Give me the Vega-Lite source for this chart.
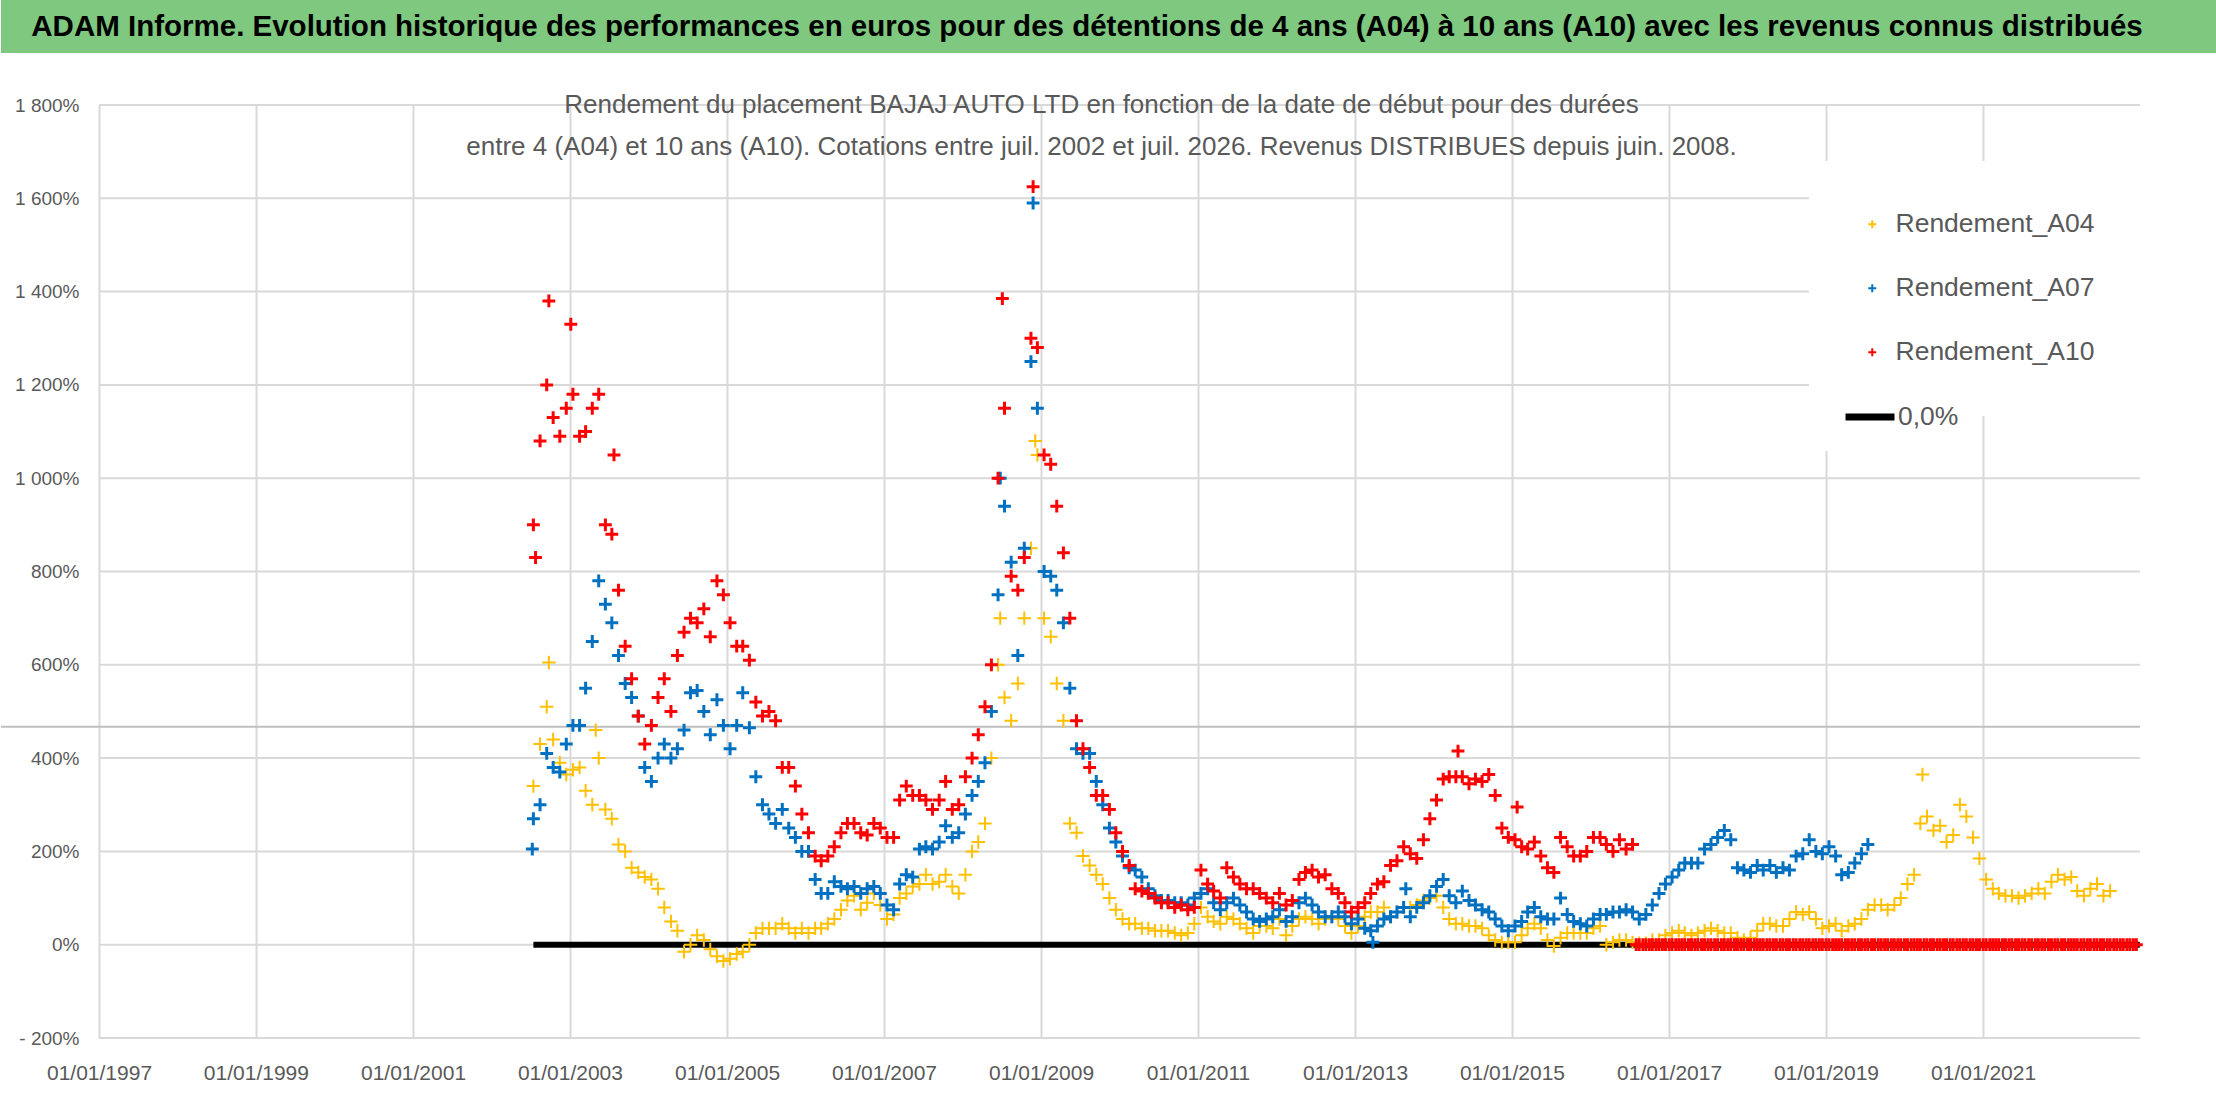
{
  "$schema": "https://vega.github.io/schema/vega-lite/v6.json",
  "background": "white",
  "padding": 0,
  "columns": 1,
  "spacing": 39,
  "config": {
    "view": {"stroke": null},
    "font": "Liberation Sans",
    "axis": {"domain": false, "ticks": false, "tickSize": 0, "gridColor": "#d9d9d9", "gridWidth": 2, "labelFont": "Liberation Sans", "labelColor": "#595959"},
    "axisY": {"labelFontSize": 19, "labelPadding": 20, "grid": false, "offset": -98},
    "axisX": {"labelFontSize": 21, "labelPadding": 24, "labelFlush": false, "labelOverlap": false, "grid": true}
  },
  "datasets": {
    "banniere": [{"titre": "ADAM Informe. Evolution historique des performances en euros pour des détentions de 4 ans (A04) à 10 ans (A10) avec les revenus connus distribués"}],
    "grille": [{"niveau": -200}, {"niveau": 0}, {"niveau": 200}, {"niveau": 400}, {"niveau": 600}, {"niveau": 800}, {"niveau": 1000}, {"niveau": 1200}, {"niveau": 1400}, {"niveau": 1600}, {"niveau": 1800}],
    "repere": [{"niveau": 467}],
    "ligne": [{"date": "2002-07-15", "v": 0}, {"date": "2022-12-31", "v": 0}],
    "a04": [
      {"date":"2002-07-15","v":340},{"date":"2002-08-15","v":430},{"date":"2002-09-15","v":510},{"date":"2002-09-25","v":605},{"date":"2002-10-15","v":440},{"date":"2002-11-15","v":390},{"date":"2002-12-15","v":365},
      {"date":"2003-01-15","v":375},{"date":"2003-02-15","v":380},{"date":"2003-03-15","v":330},{"date":"2003-04-15","v":300},{"date":"2003-05-01","v":460},{"date":"2003-05-15","v":400},{"date":"2003-06-15","v":290},{"date":"2003-07-15","v":270},{"date":"2003-08-15","v":215},{"date":"2003-09-15","v":200},{"date":"2003-10-15","v":165},{"date":"2003-11-15","v":155},{"date":"2003-12-15","v":145},
      {"date":"2004-01-15","v":140},{"date":"2004-02-15","v":120},{"date":"2004-03-15","v":80},{"date":"2004-04-15","v":50},{"date":"2004-05-15","v":30},{"date":"2004-06-15","v":-15},{"date":"2004-07-15","v":0},{"date":"2004-08-15","v":20},{"date":"2004-09-15","v":10},{"date":"2004-10-15","v":-10},{"date":"2004-11-15","v":-25},{"date":"2004-12-15","v":-35},
      {"date":"2005-01-15","v":-30},{"date":"2005-02-15","v":-20},{"date":"2005-03-15","v":-15},{"date":"2005-04-15","v":0},{"date":"2005-05-15","v":25},{"date":"2005-06-15","v":35},{"date":"2005-07-15","v":35},{"date":"2005-08-15","v":35},{"date":"2005-09-15","v":45},{"date":"2005-10-15","v":35},{"date":"2005-11-15","v":25},{"date":"2005-12-15","v":35},
      {"date":"2006-01-15","v":25},{"date":"2006-02-15","v":35},{"date":"2006-03-15","v":35},{"date":"2006-04-15","v":45},{"date":"2006-05-15","v":55},{"date":"2006-06-15","v":75},{"date":"2006-07-15","v":95},{"date":"2006-08-15","v":105},{"date":"2006-09-15","v":75},{"date":"2006-10-15","v":90},{"date":"2006-11-15","v":110},{"date":"2006-12-15","v":85},
      {"date":"2007-01-15","v":55},{"date":"2007-02-15","v":65},{"date":"2007-03-15","v":100},{"date":"2007-04-15","v":110},{"date":"2007-05-15","v":125},{"date":"2007-06-15","v":130},{"date":"2007-07-15","v":150},{"date":"2007-08-15","v":130},{"date":"2007-09-15","v":135},{"date":"2007-10-15","v":150},{"date":"2007-11-15","v":125},{"date":"2007-12-15","v":110},
      {"date":"2008-01-15","v":150},{"date":"2008-02-15","v":200},{"date":"2008-03-15","v":220},{"date":"2008-04-15","v":260},{"date":"2008-05-15","v":400},{"date":"2008-06-15","v":600},{"date":"2008-06-25","v":700},{"date":"2008-07-15","v":530},{"date":"2008-08-15","v":480},{"date":"2008-09-15","v":560},{"date":"2008-10-15","v":700},{"date":"2008-11-15","v":850},{"date":"2008-12-05","v":1080},{"date":"2008-12-15","v":1050},
      {"date":"2009-01-15","v":700},{"date":"2009-02-15","v":660},{"date":"2009-03-15","v":560},{"date":"2009-04-15","v":480},{"date":"2009-05-15","v":260},{"date":"2009-06-15","v":240},{"date":"2009-07-15","v":190},{"date":"2009-08-15","v":170},{"date":"2009-09-15","v":150},{"date":"2009-10-15","v":130},{"date":"2009-11-15","v":100},{"date":"2009-12-15","v":75},
      {"date":"2010-01-15","v":55},{"date":"2010-02-15","v":45},{"date":"2010-03-15","v":45},{"date":"2010-04-15","v":35},{"date":"2010-05-15","v":35},{"date":"2010-06-15","v":30},{"date":"2010-07-15","v":30},{"date":"2010-08-15","v":30},{"date":"2010-09-15","v":25},{"date":"2010-10-15","v":20},{"date":"2010-11-15","v":25},{"date":"2010-12-15","v":45},
      {"date":"2011-01-15","v":80},{"date":"2011-02-15","v":60},{"date":"2011-03-15","v":50},{"date":"2011-04-15","v":45},{"date":"2011-05-15","v":60},{"date":"2011-06-15","v":55},{"date":"2011-07-15","v":45},{"date":"2011-08-15","v":35},{"date":"2011-09-15","v":25},{"date":"2011-10-15","v":40},{"date":"2011-11-15","v":40},{"date":"2011-12-15","v":35},
      {"date":"2012-01-15","v":55},{"date":"2012-02-15","v":20},{"date":"2012-03-15","v":40},{"date":"2012-04-15","v":55},{"date":"2012-05-15","v":60},{"date":"2012-06-15","v":55},{"date":"2012-07-15","v":45},{"date":"2012-08-15","v":55},{"date":"2012-09-15","v":60},{"date":"2012-10-15","v":55},{"date":"2012-11-15","v":40},{"date":"2012-12-15","v":25},
      {"date":"2013-01-15","v":40},{"date":"2013-02-15","v":60},{"date":"2013-03-15","v":70},{"date":"2013-04-15","v":70},{"date":"2013-05-15","v":80},{"date":"2013-06-15","v":60},{"date":"2013-07-15","v":70},{"date":"2013-08-15","v":80},{"date":"2013-09-15","v":80},{"date":"2013-10-15","v":85},{"date":"2013-11-15","v":95},{"date":"2013-12-15","v":100},
      {"date":"2014-01-15","v":105},{"date":"2014-02-15","v":80},{"date":"2014-03-15","v":55},{"date":"2014-04-15","v":45},{"date":"2014-05-15","v":45},{"date":"2014-06-15","v":40},{"date":"2014-07-15","v":40},{"date":"2014-08-15","v":35},{"date":"2014-09-15","v":20},{"date":"2014-10-15","v":10},{"date":"2014-11-15","v":5},{"date":"2014-12-15","v":5},
      {"date":"2015-01-15","v":5},{"date":"2015-02-15","v":20},{"date":"2015-03-15","v":35},{"date":"2015-04-15","v":45},{"date":"2015-05-15","v":35},{"date":"2015-06-15","v":10},{"date":"2015-07-15","v":-3},{"date":"2015-08-15","v":15},{"date":"2015-09-15","v":25},{"date":"2015-10-15","v":25},{"date":"2015-11-15","v":25},{"date":"2015-12-15","v":25},
      {"date":"2016-01-15","v":35},{"date":"2016-02-15","v":40},{"date":"2016-03-15","v":0},{"date":"2016-04-15","v":5},{"date":"2016-05-15","v":10},{"date":"2016-06-15","v":10},{"date":"2016-07-15","v":5},{"date":"2016-08-15","v":3},{"date":"2016-09-15","v":3},{"date":"2016-10-15","v":10},{"date":"2016-11-15","v":10},{"date":"2016-12-15","v":20},
      {"date":"2017-01-15","v":25},{"date":"2017-02-15","v":30},{"date":"2017-03-15","v":25},{"date":"2017-04-15","v":20},{"date":"2017-05-15","v":25},{"date":"2017-06-15","v":30},{"date":"2017-07-15","v":35},{"date":"2017-08-15","v":30},{"date":"2017-09-15","v":25},{"date":"2017-10-15","v":25},{"date":"2017-11-15","v":15},{"date":"2017-12-15","v":10},
      {"date":"2018-01-15","v":15},{"date":"2018-02-15","v":30},{"date":"2018-03-15","v":45},{"date":"2018-04-15","v":45},{"date":"2018-05-15","v":40},{"date":"2018-06-15","v":40},{"date":"2018-07-15","v":55},{"date":"2018-08-15","v":70},{"date":"2018-09-15","v":65},{"date":"2018-10-15","v":70},{"date":"2018-11-15","v":55},{"date":"2018-12-15","v":35},
      {"date":"2019-01-15","v":40},{"date":"2019-02-15","v":45},{"date":"2019-03-15","v":30},{"date":"2019-04-15","v":40},{"date":"2019-05-15","v":45},{"date":"2019-06-15","v":55},{"date":"2019-07-15","v":75},{"date":"2019-08-15","v":85},{"date":"2019-09-15","v":85},{"date":"2019-10-15","v":75},{"date":"2019-11-15","v":85},{"date":"2019-12-15","v":100},
      {"date":"2020-01-15","v":130},{"date":"2020-02-15","v":150},{"date":"2020-03-15","v":260},{"date":"2020-03-25","v":365},{"date":"2020-04-15","v":275},{"date":"2020-05-15","v":245},{"date":"2020-06-15","v":255},{"date":"2020-07-15","v":220},{"date":"2020-08-15","v":235},{"date":"2020-09-15","v":300},{"date":"2020-10-15","v":275},{"date":"2020-11-15","v":230},{"date":"2020-12-15","v":185},
      {"date":"2021-01-15","v":140},{"date":"2021-02-15","v":120},{"date":"2021-03-15","v":110},{"date":"2021-04-15","v":105},{"date":"2021-05-15","v":105},{"date":"2021-06-15","v":100},{"date":"2021-07-15","v":105},{"date":"2021-08-15","v":110},{"date":"2021-09-15","v":120},{"date":"2021-10-15","v":110},{"date":"2021-11-15","v":135},{"date":"2021-12-15","v":150},
      {"date":"2022-01-15","v":140},{"date":"2022-02-15","v":145},{"date":"2022-03-15","v":115},{"date":"2022-04-15","v":105},{"date":"2022-05-15","v":120},{"date":"2022-06-15","v":130},{"date":"2022-07-15","v":105},{"date":"2022-08-15","v":115}
    ],
    "a07": [
      {"date":"2002-07-10","v":205},{"date":"2002-07-15","v":270},{"date":"2002-08-15","v":300},{"date":"2002-09-15","v":410},{"date":"2002-10-15","v":380},{"date":"2002-11-15","v":370},{"date":"2002-12-15","v":430},
      {"date":"2003-01-15","v":470},{"date":"2003-02-15","v":470},{"date":"2003-03-15","v":550},{"date":"2003-04-15","v":650},{"date":"2003-05-15","v":780},{"date":"2003-06-15","v":730},{"date":"2003-07-15","v":690},{"date":"2003-08-15","v":620},{"date":"2003-09-15","v":560},{"date":"2003-10-15","v":530},{"date":"2003-11-15","v":490},{"date":"2003-12-15","v":380},
      {"date":"2004-01-15","v":350},{"date":"2004-02-15","v":400},{"date":"2004-03-15","v":430},{"date":"2004-04-15","v":400},{"date":"2004-05-15","v":420},{"date":"2004-06-15","v":460},{"date":"2004-07-15","v":540},{"date":"2004-08-15","v":545},{"date":"2004-09-15","v":500},{"date":"2004-10-15","v":450},{"date":"2004-11-15","v":525},{"date":"2004-12-15","v":470},
      {"date":"2005-01-15","v":420},{"date":"2005-02-15","v":470},{"date":"2005-03-15","v":540},{"date":"2005-04-15","v":465},{"date":"2005-05-15","v":360},{"date":"2005-06-15","v":300},{"date":"2005-07-15","v":280},{"date":"2005-08-15","v":260},{"date":"2005-09-15","v":290},{"date":"2005-10-15","v":250},{"date":"2005-11-15","v":230},{"date":"2005-12-15","v":200},
      {"date":"2006-01-15","v":200},{"date":"2006-02-15","v":140},{"date":"2006-03-15","v":110},{"date":"2006-04-15","v":110},{"date":"2006-05-15","v":135},{"date":"2006-06-15","v":125},{"date":"2006-07-15","v":120},{"date":"2006-08-15","v":125},{"date":"2006-09-15","v":110},{"date":"2006-10-15","v":120},{"date":"2006-11-15","v":125},{"date":"2006-12-15","v":110},
      {"date":"2007-01-15","v":85},{"date":"2007-02-15","v":75},{"date":"2007-03-15","v":130},{"date":"2007-04-15","v":150},{"date":"2007-05-15","v":145},{"date":"2007-06-15","v":205},{"date":"2007-07-15","v":210},{"date":"2007-08-15","v":205},{"date":"2007-09-15","v":220},{"date":"2007-10-15","v":255},{"date":"2007-11-15","v":230},{"date":"2007-12-15","v":240},
      {"date":"2008-01-15","v":280},{"date":"2008-02-15","v":320},{"date":"2008-03-15","v":350},{"date":"2008-04-15","v":390},{"date":"2008-05-15","v":500},{"date":"2008-06-15","v":750},{"date":"2008-06-25","v":1000},{"date":"2008-07-15","v":940},{"date":"2008-08-15","v":820},{"date":"2008-09-15","v":620},{"date":"2008-10-15","v":850},{"date":"2008-11-15","v":1250},{"date":"2008-11-25","v":1590},{"date":"2008-12-15","v":1150},
      {"date":"2009-01-15","v":800},{"date":"2009-02-15","v":790},{"date":"2009-03-15","v":760},{"date":"2009-04-15","v":690},{"date":"2009-05-15","v":550},{"date":"2009-06-15","v":420},{"date":"2009-07-15","v":410},{"date":"2009-08-15","v":410},{"date":"2009-09-15","v":350},{"date":"2009-10-15","v":300},{"date":"2009-11-15","v":250},{"date":"2009-12-15","v":220},
      {"date":"2010-01-15","v":190},{"date":"2010-02-15","v":165},{"date":"2010-03-15","v":160},{"date":"2010-04-15","v":145},{"date":"2010-05-15","v":120},{"date":"2010-06-15","v":105},{"date":"2010-07-15","v":95},{"date":"2010-08-15","v":95},{"date":"2010-09-15","v":90},{"date":"2010-10-15","v":90},{"date":"2010-11-15","v":85},{"date":"2010-12-15","v":100},
      {"date":"2011-01-15","v":110},{"date":"2011-02-15","v":120},{"date":"2011-03-15","v":90},{"date":"2011-04-15","v":75},{"date":"2011-05-15","v":90},{"date":"2011-06-15","v":100},{"date":"2011-07-15","v":85},{"date":"2011-08-15","v":70},{"date":"2011-09-15","v":55},{"date":"2011-10-15","v":50},{"date":"2011-11-15","v":55},{"date":"2011-12-15","v":60},
      {"date":"2012-01-15","v":75},{"date":"2012-02-15","v":50},{"date":"2012-03-15","v":60},{"date":"2012-04-15","v":90},{"date":"2012-05-15","v":100},{"date":"2012-06-15","v":85},{"date":"2012-07-15","v":70},{"date":"2012-08-15","v":60},{"date":"2012-09-15","v":60},{"date":"2012-10-15","v":70},{"date":"2012-11-15","v":60},{"date":"2012-12-15","v":45},
      {"date":"2013-01-15","v":55},{"date":"2013-02-15","v":35},{"date":"2013-03-15","v":30},{"date":"2013-03-25","v":5},{"date":"2013-04-15","v":40},{"date":"2013-05-15","v":55},{"date":"2013-06-15","v":60},{"date":"2013-07-15","v":70},{"date":"2013-08-15","v":80},{"date":"2013-08-25","v":120},{"date":"2013-09-15","v":60},{"date":"2013-10-15","v":80},{"date":"2013-11-15","v":90},{"date":"2013-12-15","v":105},
      {"date":"2014-01-15","v":125},{"date":"2014-02-15","v":140},{"date":"2014-03-15","v":105},{"date":"2014-04-15","v":90},{"date":"2014-05-15","v":115},{"date":"2014-06-15","v":95},{"date":"2014-07-15","v":85},{"date":"2014-08-15","v":75},{"date":"2014-09-15","v":70},{"date":"2014-10-15","v":55},{"date":"2014-11-15","v":40},{"date":"2014-12-15","v":30},
      {"date":"2015-01-15","v":40},{"date":"2015-02-15","v":50},{"date":"2015-03-15","v":70},{"date":"2015-04-15","v":80},{"date":"2015-05-15","v":60},{"date":"2015-06-15","v":55},{"date":"2015-07-15","v":55},{"date":"2015-08-15","v":100},{"date":"2015-09-15","v":65},{"date":"2015-10-15","v":50},{"date":"2015-11-15","v":45},{"date":"2015-12-15","v":40},
      {"date":"2016-01-15","v":55},{"date":"2016-02-15","v":65},{"date":"2016-03-15","v":65},{"date":"2016-04-15","v":70},{"date":"2016-05-15","v":70},{"date":"2016-06-15","v":75},{"date":"2016-07-15","v":70},{"date":"2016-08-15","v":55},{"date":"2016-09-15","v":65},{"date":"2016-10-15","v":85},{"date":"2016-11-15","v":110},{"date":"2016-12-15","v":130},
      {"date":"2017-01-15","v":145},{"date":"2017-02-15","v":160},{"date":"2017-03-15","v":175},{"date":"2017-04-15","v":175},{"date":"2017-05-15","v":175},{"date":"2017-06-15","v":205},{"date":"2017-07-15","v":215},{"date":"2017-08-15","v":230},{"date":"2017-09-15","v":245},{"date":"2017-10-15","v":225},{"date":"2017-11-15","v":165},{"date":"2017-12-15","v":160},
      {"date":"2018-01-15","v":155},{"date":"2018-02-15","v":170},{"date":"2018-03-15","v":160},{"date":"2018-04-15","v":170},{"date":"2018-05-15","v":155},{"date":"2018-06-15","v":165},{"date":"2018-07-15","v":160},{"date":"2018-08-15","v":190},{"date":"2018-09-15","v":195},{"date":"2018-10-15","v":225},{"date":"2018-11-15","v":200},{"date":"2018-12-15","v":195},
      {"date":"2019-01-15","v":210},{"date":"2019-02-15","v":190},{"date":"2019-03-15","v":150},{"date":"2019-04-15","v":155},{"date":"2019-05-15","v":175},{"date":"2019-06-15","v":195},{"date":"2019-07-15","v":215}
    ],
    "a10": [
      {"date":"2002-07-15","v":900},{"date":"2002-07-25","v":830},{"date":"2002-08-15","v":1080},{"date":"2002-09-15","v":1200},{"date":"2002-09-25","v":1380},{"date":"2002-10-15","v":1130},{"date":"2002-11-15","v":1090},{"date":"2002-12-15","v":1150},
      {"date":"2003-01-05","v":1330},{"date":"2003-01-15","v":1180},{"date":"2003-02-15","v":1090},{"date":"2003-03-15","v":1100},{"date":"2003-04-15","v":1150},{"date":"2003-05-15","v":1180},{"date":"2003-06-15","v":900},{"date":"2003-07-15","v":880},{"date":"2003-07-25","v":1050},{"date":"2003-08-15","v":760},{"date":"2003-09-15","v":640},{"date":"2003-10-15","v":570},{"date":"2003-11-15","v":490},{"date":"2003-12-15","v":430},
      {"date":"2004-01-15","v":470},{"date":"2004-02-15","v":530},{"date":"2004-03-15","v":570},{"date":"2004-04-15","v":500},{"date":"2004-05-15","v":620},{"date":"2004-06-15","v":670},{"date":"2004-07-15","v":700},{"date":"2004-08-15","v":690},{"date":"2004-09-15","v":720},{"date":"2004-10-15","v":660},{"date":"2004-11-15","v":780},{"date":"2004-12-15","v":750},
      {"date":"2005-01-15","v":690},{"date":"2005-02-15","v":640},{"date":"2005-03-15","v":640},{"date":"2005-04-15","v":610},{"date":"2005-05-15","v":520},{"date":"2005-06-15","v":490},{"date":"2005-07-15","v":500},{"date":"2005-08-15","v":480},{"date":"2005-09-15","v":380},{"date":"2005-10-15","v":380},{"date":"2005-11-15","v":340},{"date":"2005-12-15","v":280},
      {"date":"2006-01-15","v":240},{"date":"2006-02-15","v":190},{"date":"2006-03-15","v":180},{"date":"2006-04-15","v":190},{"date":"2006-05-15","v":210},{"date":"2006-06-15","v":240},{"date":"2006-07-15","v":260},{"date":"2006-08-15","v":260},{"date":"2006-09-15","v":240},{"date":"2006-10-15","v":235},{"date":"2006-11-15","v":260},{"date":"2006-12-15","v":250},
      {"date":"2007-01-15","v":230},{"date":"2007-02-15","v":230},{"date":"2007-03-15","v":310},{"date":"2007-04-15","v":340},{"date":"2007-05-15","v":320},{"date":"2007-06-15","v":320},{"date":"2007-07-15","v":310},{"date":"2007-08-15","v":290},{"date":"2007-09-15","v":310},{"date":"2007-10-15","v":350},{"date":"2007-11-15","v":290},{"date":"2007-12-15","v":300},
      {"date":"2008-01-15","v":360},{"date":"2008-02-15","v":400},{"date":"2008-03-15","v":450},{"date":"2008-04-15","v":510},{"date":"2008-05-15","v":600},{"date":"2008-06-15","v":1000},{"date":"2008-07-05","v":1385},{"date":"2008-07-15","v":1150},{"date":"2008-08-15","v":790},{"date":"2008-09-15","v":760},{"date":"2008-10-15","v":830},{"date":"2008-11-15","v":1300},{"date":"2008-11-25","v":1625},{"date":"2008-12-15","v":1280},
      {"date":"2009-01-15","v":1050},{"date":"2009-02-15","v":1030},{"date":"2009-03-15","v":940},{"date":"2009-04-15","v":840},{"date":"2009-05-15","v":700},{"date":"2009-06-15","v":480},{"date":"2009-07-15","v":420},{"date":"2009-08-15","v":380},{"date":"2009-09-15","v":320},{"date":"2009-10-15","v":320},{"date":"2009-11-15","v":290},{"date":"2009-12-15","v":240},
      {"date":"2010-01-15","v":200},{"date":"2010-02-15","v":170},{"date":"2010-03-15","v":120},{"date":"2010-04-15","v":115},{"date":"2010-05-15","v":110},{"date":"2010-06-15","v":100},{"date":"2010-07-15","v":90},{"date":"2010-08-15","v":90},{"date":"2010-09-15","v":80},{"date":"2010-10-15","v":85},{"date":"2010-11-15","v":75},{"date":"2010-12-15","v":80},
      {"date":"2011-01-15","v":160},{"date":"2011-02-15","v":130},{"date":"2011-03-15","v":115},{"date":"2011-04-15","v":100},{"date":"2011-05-15","v":165},{"date":"2011-06-15","v":145},{"date":"2011-07-15","v":130},{"date":"2011-08-15","v":120},{"date":"2011-09-15","v":120},{"date":"2011-10-15","v":110},{"date":"2011-11-15","v":100},{"date":"2011-12-15","v":90},
      {"date":"2012-01-15","v":110},{"date":"2012-02-15","v":85},{"date":"2012-03-15","v":95},{"date":"2012-04-15","v":140},{"date":"2012-05-15","v":155},{"date":"2012-06-15","v":160},{"date":"2012-07-15","v":145},{"date":"2012-08-15","v":150},{"date":"2012-09-15","v":120},{"date":"2012-10-15","v":110},{"date":"2012-11-15","v":90},{"date":"2012-12-15","v":70},
      {"date":"2013-01-15","v":80},{"date":"2013-02-15","v":90},{"date":"2013-03-15","v":110},{"date":"2013-04-15","v":130},{"date":"2013-05-15","v":135},{"date":"2013-06-15","v":170},{"date":"2013-07-15","v":180},{"date":"2013-08-15","v":210},{"date":"2013-09-15","v":195},{"date":"2013-10-15","v":185},{"date":"2013-11-15","v":225},{"date":"2013-12-15","v":270},
      {"date":"2014-01-15","v":310},{"date":"2014-02-15","v":355},{"date":"2014-03-15","v":360},{"date":"2014-04-15","v":360},{"date":"2014-04-25","v":415},{"date":"2014-05-15","v":360},{"date":"2014-06-15","v":345},{"date":"2014-07-15","v":355},{"date":"2014-08-15","v":350},{"date":"2014-09-15","v":365},{"date":"2014-10-15","v":320},{"date":"2014-11-15","v":250},{"date":"2014-12-15","v":230},
      {"date":"2015-01-15","v":225},{"date":"2015-01-25","v":295},{"date":"2015-02-15","v":210},{"date":"2015-03-15","v":205},{"date":"2015-04-15","v":220},{"date":"2015-05-15","v":190},{"date":"2015-06-15","v":165},{"date":"2015-07-15","v":155},{"date":"2015-08-15","v":230},{"date":"2015-09-15","v":210},{"date":"2015-10-15","v":190},{"date":"2015-11-15","v":190},{"date":"2015-12-15","v":200},
      {"date":"2016-01-15","v":230},{"date":"2016-02-15","v":230},{"date":"2016-03-15","v":215},{"date":"2016-04-15","v":200},{"date":"2016-05-15","v":225},{"date":"2016-06-15","v":205},{"date":"2016-07-15","v":215},
      {"date":"2016-08-01","v":0},{"date":"2016-08-15","v":0},{"date":"2016-09-01","v":0},{"date":"2016-09-15","v":0},{"date":"2016-10-01","v":0},{"date":"2016-10-15","v":0},{"date":"2016-11-01","v":0},{"date":"2016-11-15","v":0},{"date":"2016-12-01","v":0},{"date":"2016-12-15","v":0},
      {"date":"2017-01-01","v":0},{"date":"2017-01-15","v":0},{"date":"2017-02-01","v":0},{"date":"2017-02-15","v":0},{"date":"2017-03-01","v":0},{"date":"2017-03-15","v":0},{"date":"2017-04-01","v":0},{"date":"2017-04-15","v":0},{"date":"2017-05-01","v":0},{"date":"2017-05-15","v":0},{"date":"2017-06-01","v":0},{"date":"2017-06-15","v":0},{"date":"2017-07-01","v":0},{"date":"2017-07-15","v":0},{"date":"2017-08-01","v":0},{"date":"2017-08-15","v":0},{"date":"2017-09-01","v":0},{"date":"2017-09-15","v":0},{"date":"2017-10-01","v":0},{"date":"2017-10-15","v":0},{"date":"2017-11-01","v":0},{"date":"2017-11-15","v":0},{"date":"2017-12-01","v":0},{"date":"2017-12-15","v":0},
      {"date":"2018-01-01","v":0},{"date":"2018-01-15","v":0},{"date":"2018-02-01","v":0},{"date":"2018-02-15","v":0},{"date":"2018-03-01","v":0},{"date":"2018-03-15","v":0},{"date":"2018-04-01","v":0},{"date":"2018-04-15","v":0},{"date":"2018-05-01","v":0},{"date":"2018-05-15","v":0},{"date":"2018-06-01","v":0},{"date":"2018-06-15","v":0},{"date":"2018-07-01","v":0},{"date":"2018-07-15","v":0},{"date":"2018-08-01","v":0},{"date":"2018-08-15","v":0},{"date":"2018-09-01","v":0},{"date":"2018-09-15","v":0},{"date":"2018-10-01","v":0},{"date":"2018-10-15","v":0},{"date":"2018-11-01","v":0},{"date":"2018-11-15","v":0},{"date":"2018-12-01","v":0},{"date":"2018-12-15","v":0},
      {"date":"2019-01-01","v":0},{"date":"2019-01-15","v":0},{"date":"2019-02-01","v":0},{"date":"2019-02-15","v":0},{"date":"2019-03-01","v":0},{"date":"2019-03-15","v":0},{"date":"2019-04-01","v":0},{"date":"2019-04-15","v":0},{"date":"2019-05-01","v":0},{"date":"2019-05-15","v":0},{"date":"2019-06-01","v":0},{"date":"2019-06-15","v":0},{"date":"2019-07-01","v":0},{"date":"2019-07-15","v":0},{"date":"2019-08-01","v":0},{"date":"2019-08-15","v":0},{"date":"2019-09-01","v":0},{"date":"2019-09-15","v":0},{"date":"2019-10-01","v":0},{"date":"2019-10-15","v":0},{"date":"2019-11-01","v":0},{"date":"2019-11-15","v":0},{"date":"2019-12-01","v":0},{"date":"2019-12-15","v":0},
      {"date":"2020-01-01","v":0},{"date":"2020-01-15","v":0},{"date":"2020-02-01","v":0},{"date":"2020-02-15","v":0},{"date":"2020-03-01","v":0},{"date":"2020-03-15","v":0},{"date":"2020-04-01","v":0},{"date":"2020-04-15","v":0},{"date":"2020-05-01","v":0},{"date":"2020-05-15","v":0},{"date":"2020-06-01","v":0},{"date":"2020-06-15","v":0},{"date":"2020-07-01","v":0},{"date":"2020-07-15","v":0},{"date":"2020-08-01","v":0},{"date":"2020-08-15","v":0},{"date":"2020-09-01","v":0},{"date":"2020-09-15","v":0},{"date":"2020-10-01","v":0},{"date":"2020-10-15","v":0},{"date":"2020-11-01","v":0},{"date":"2020-11-15","v":0},{"date":"2020-12-01","v":0},{"date":"2020-12-15","v":0},
      {"date":"2021-01-01","v":0},{"date":"2021-01-15","v":0},{"date":"2021-02-01","v":0},{"date":"2021-02-15","v":0},{"date":"2021-03-01","v":0},{"date":"2021-03-15","v":0},{"date":"2021-04-01","v":0},{"date":"2021-04-15","v":0},{"date":"2021-05-01","v":0},{"date":"2021-05-15","v":0},{"date":"2021-06-01","v":0},{"date":"2021-06-15","v":0},{"date":"2021-07-01","v":0},{"date":"2021-07-15","v":0},{"date":"2021-08-01","v":0},{"date":"2021-08-15","v":0},{"date":"2021-09-01","v":0},{"date":"2021-09-15","v":0},{"date":"2021-10-01","v":0},{"date":"2021-10-15","v":0},{"date":"2021-11-01","v":0},{"date":"2021-11-15","v":0},{"date":"2021-12-01","v":0},{"date":"2021-12-15","v":0},
      {"date":"2022-01-01","v":0},{"date":"2022-01-15","v":0},{"date":"2022-02-01","v":0},{"date":"2022-02-15","v":0},{"date":"2022-03-01","v":0},{"date":"2022-03-15","v":0},{"date":"2022-04-01","v":0},{"date":"2022-04-15","v":0},{"date":"2022-05-01","v":0},{"date":"2022-05-15","v":0},{"date":"2022-06-01","v":0},{"date":"2022-06-15","v":0},{"date":"2022-07-01","v":0},{"date":"2022-07-15","v":0},{"date":"2022-08-01","v":0},{"date":"2022-08-15","v":0},{"date":"2022-09-01","v":0},{"date":"2022-09-15","v":0},{"date":"2022-10-01","v":0},{"date":"2022-10-15","v":0},{"date":"2022-11-01","v":0},{"date":"2022-11-15","v":0},{"date":"2022-12-01","v":0},{"date":"2022-12-15","v":0}
    ]
  },
  "concat": [
    {
      "width": 2216,
      "height": 53,
      "view": {"fill": "#7ec87f", "stroke": null},
      "data": {"name": "banniere"},
      "mark": {"type": "text", "font": "Liberation Sans", "fontSize": 29.5, "fontWeight": "bold", "color": "black", "dx": -22},
      "encoding": {"text": {"field": "titre"}}
    },
    {
      "width": 2139,
      "height": 933,
      "title": {
        "text": ["Rendement du placement BAJAJ AUTO LTD en fonction de la date de début pour des durées", "entre 4 (A04) et 10 ans (A10). Cotations entre juil. 2002 et juil. 2026. Revenus DISTRIBUES depuis juin. 2008."],
        "font": "Liberation Sans",
        "fontSize": 26,
        "fontWeight": "normal",
        "color": "#595959",
        "lineHeight": 42,
        "anchor": "middle",
        "baseline": "alphabetic",
        "offset": -85,
        "dx": 31
      },
      "layer": [
        {
          "data": {"name": "grille"},
          "mark": {"type": "rule", "color": "#d9d9d9", "strokeWidth": 2},
          "encoding": {
            "y": {"field": "niveau", "type": "quantitative", "title": null, "scale": {"domain": [-200, 1800], "nice": false, "zero": false}},
            "x": {"datum": {"year": 1997, "month": 1, "date": 1, "utc": true}, "type": "temporal", "axis": {"grid": true}},
            "x2": {"datum": {"year": 2023, "month": 1, "date": 1, "utc": true}}
          }
        },
        {
          "data": {"name": "repere"},
          "mark": {"type": "rule", "color": "#bfbfbf", "strokeWidth": 2},
          "encoding": {
            "y": {"field": "niveau", "type": "quantitative", "title": null, "scale": {"domain": [-200, 1800], "nice": false, "zero": false}}
          }
        },
        {
          "data": {"name": "ligne"},
          "mark": {"type": "line", "color": "black", "strokeWidth": 6},
          "encoding": {
            "x": {
              "field": "date", "type": "temporal", "title": null,
              "scale": {"type": "utc", "domain": [{"year": 1995, "month": 10, "date": 3, "utc": true}, {"year": 2023, "month": 1, "date": 1, "utc": true}]},
              "axis": {
                "grid": true,
                "format": "%d/%m/%Y",
                "values": [
                  {"year": 1997, "month": 1, "date": 1, "utc": true}, {"year": 1999, "month": 1, "date": 1, "utc": true},
                  {"year": 2001, "month": 1, "date": 1, "utc": true}, {"year": 2003, "month": 1, "date": 1, "utc": true},
                  {"year": 2005, "month": 1, "date": 1, "utc": true}, {"year": 2007, "month": 1, "date": 1, "utc": true},
                  {"year": 2009, "month": 1, "date": 1, "utc": true}, {"year": 2011, "month": 1, "date": 1, "utc": true},
                  {"year": 2013, "month": 1, "date": 1, "utc": true}, {"year": 2015, "month": 1, "date": 1, "utc": true},
                  {"year": 2017, "month": 1, "date": 1, "utc": true}, {"year": 2019, "month": 1, "date": 1, "utc": true},
                  {"year": 2021, "month": 1, "date": 1, "utc": true}
                ]
              }
            },
            "y": {
              "field": "v", "type": "quantitative", "title": null,
              "scale": {"domain": [-200, 1800], "nice": false, "zero": false},
              "axis": {
                "values": [-200, 0, 200, 400, 600, 800, 1000, 1200, 1400, 1600, 1800],
                "labelExpr": "(datum.value < 0 ? '- ' : '') + replace(format(abs(datum.value), ','), ',', ' ') + '%'"
              }
            },
            "strokeDash": {
              "datum": "0,0%",
              "scale": {"range": [[1, 0]]},
              "legend": {
                "orient": "none", "legendX": 1821, "legendY": 369, "title": null, "zindex": 3,
                "fillColor": "white", "padding": 20,
                "labelFont": "Liberation Sans", "labelFontSize": 26.5, "labelColor": "#595959", "labelOffset": 0, "labelLimit": 500,
                "symbolType": "stroke", "symbolSize": 2401, "symbolStrokeWidth": 7, "symbolStrokeColor": "black"
              }
            }
          }
        },
        {
          "data": {"name": "a04"},
          "mark": {"type": "point", "shape": "M-1,0H1M0,-1V1", "filled": false, "size": 180, "strokeWidth": 2, "opacity": 1},
          "encoding": {
            "x": {"field": "date", "type": "temporal", "title": null},
            "y": {"field": "v", "type": "quantitative", "title": null, "scale": {"domain": [-200, 1800], "nice": false, "zero": false}},
            "color": {
              "datum": "Rendement_A04",
              "type": "nominal",
              "scale": {"domain": ["Rendement_A04", "Rendement_A07", "Rendement_A10"], "range": ["#ffc000", "#0070c0", "#ff0000"]},
              "legend": {
                "orient": "none", "legendX": 1808, "legendY": 161, "title": null, "zindex": 1,
                "fillColor": "white", "padding": 50,
                "labelFont": "Liberation Sans", "labelFontSize": 26.5, "labelColor": "#595959", "labelOffset": 10, "labelLimit": 500,
                "rowPadding": 37,
                "symbolType": "M-1,0H1M0,-1V1", "symbolSize": 64, "symbolStrokeWidth": 2
              }
            }
          }
        },
        {
          "data": {"name": "a07"},
          "mark": {"type": "point", "shape": "M-1,0H1M0,-1V1", "filled": false, "size": 165, "strokeWidth": 3, "opacity": 1},
          "encoding": {
            "x": {"field": "date", "type": "temporal", "title": null},
            "y": {"field": "v", "type": "quantitative", "title": null, "scale": {"domain": [-200, 1800], "nice": false, "zero": false}},
            "color": {"datum": "Rendement_A07", "type": "nominal"}
          }
        },
        {
          "data": {"name": "a10"},
          "mark": {"type": "point", "shape": "M-1,0H1M0,-1V1", "filled": false, "size": 165, "strokeWidth": 3, "opacity": 1},
          "encoding": {
            "x": {"field": "date", "type": "temporal", "title": null},
            "y": {"field": "v", "type": "quantitative", "title": null, "scale": {"domain": [-200, 1800], "nice": false, "zero": false}},
            "color": {"datum": "Rendement_A10", "type": "nominal"}
          }
        }
      ]
    }
  ]
}
